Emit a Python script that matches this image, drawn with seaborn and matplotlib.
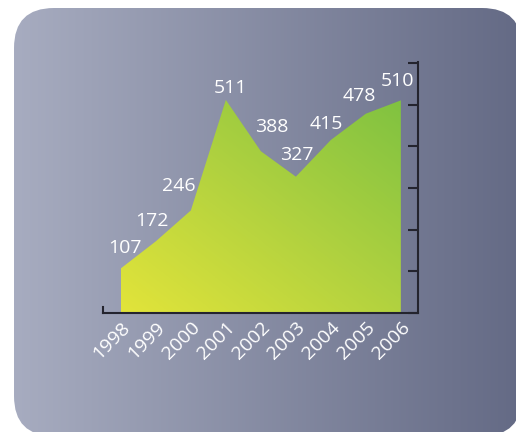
import numpy as np
import matplotlib.pyplot as plt
import seaborn as sns
from matplotlib.colors import LinearSegmentedColormap
from matplotlib.patches import FancyBboxPatch

# Data
years = [1998, 1999, 2000, 2001, 2002, 2003, 2004, 2005, 2006]
values = [107, 172, 246, 511, 388, 327, 415, 478, 510]
year_labels = [str(y) for y in years]

# label nudges in pixels (dx, dy of digit centre above the point)
label_dx = [4, -4, -12, 5, 11, 1, -5, -7, -3]
label_dy = [22, 22, 26, 14, 26, 24, 18, 20, 21]

sns.set_theme(style="white")
plt.rcParams['font.family'] = ['Open Sans', 'DejaVu Sans']

W, H = 516, 432
fig = plt.figure(figsize=(W / 100, H / 100), dpi=100, facecolor='white')

# rounded panel with horizontal gradient
bg = fig.add_axes([0, 0, 1, 1], zorder=0)
bg.set_xlim(0, W)
bg.set_ylim(H, 0)
bg.axis('off')
bg_cmap = LinearSegmentedColormap.from_list('bg', ['#a7acc0', '#646a85'])
grad = np.linspace(0, 1, 256).reshape(1, -1)
im_bg = bg.imshow(grad, cmap=bg_cmap, extent=(14, 522, 436, 8), aspect='auto')
panel = FancyBboxPatch((14, 8), 508, 428, boxstyle="round,pad=0,rounding_size=40",
                       facecolor='none', edgecolor='none', transform=bg.transData)
bg.add_patch(panel)
im_bg.set_clip_path(panel)

# main chart
ax = fig.add_axes([103 / W, 1 - 313 / H, 315 / W, 251 / H], zorder=1)
ax.set_facecolor('none')
ax.set_xlim(1997.49, 2006.49)
ax.set_ylim(0, 602)

sns.lineplot(x=years, y=values, ax=ax, color='#9ccc3e', linewidth=0)
poly = ax.fill_between(years, values, 0, color='none', linewidth=0)

fill_cmap = LinearSegmentedColormap.from_list('fill', ['#e2e43a', '#b2d23f', '#80c241'])
gx, gy = np.meshgrid(np.linspace(0, 1, 200), np.linspace(0, 1, 200))
im = ax.imshow((gx + gy) / 2, cmap=fill_cmap, origin='lower', aspect='auto',
               extent=(years[0], years[-1], 0, max(values)), vmin=0, vmax=1, zorder=2)
im.set_clip_path(poly.get_paths()[0], transform=ax.transData)

for yr, v, dx, dy in zip(years, values, label_dx, label_dy):
    ax.annotate(str(v), (yr, v), xytext=(dx, dy - 7), textcoords='offset pixels',
                ha='center', va='baseline', color='white', fontsize=14, zorder=3)

# axes styling
axis_color = '#24242e'
ax.spines['top'].set_visible(False)
for side in ['left', 'bottom', 'right']:
    ax.spines[side].set_color(axis_color)
    ax.spines[side].set_linewidth(1.5)
ax.spines['left'].set_bounds(0, 14)

ax.set_xticks(years)
ax.set_xticklabels(year_labels)
ax.tick_params(axis='x', length=0, pad=4, labelcolor='white', labelsize=14)
plt.setp(ax.get_xticklabels(), rotation=45, ha='right', rotation_mode='anchor')

ax.yaxis.tick_right()
ax.set_yticks(range(0, 601, 100))
ax.tick_params(axis='y', direction='in', length=7, width=1.5, color=axis_color,
               labelright=False, labelleft=False, right=True, left=False)
ax.set_xlabel('')
ax.set_ylabel('')

fig.savefig('out.png', dpi=100)
